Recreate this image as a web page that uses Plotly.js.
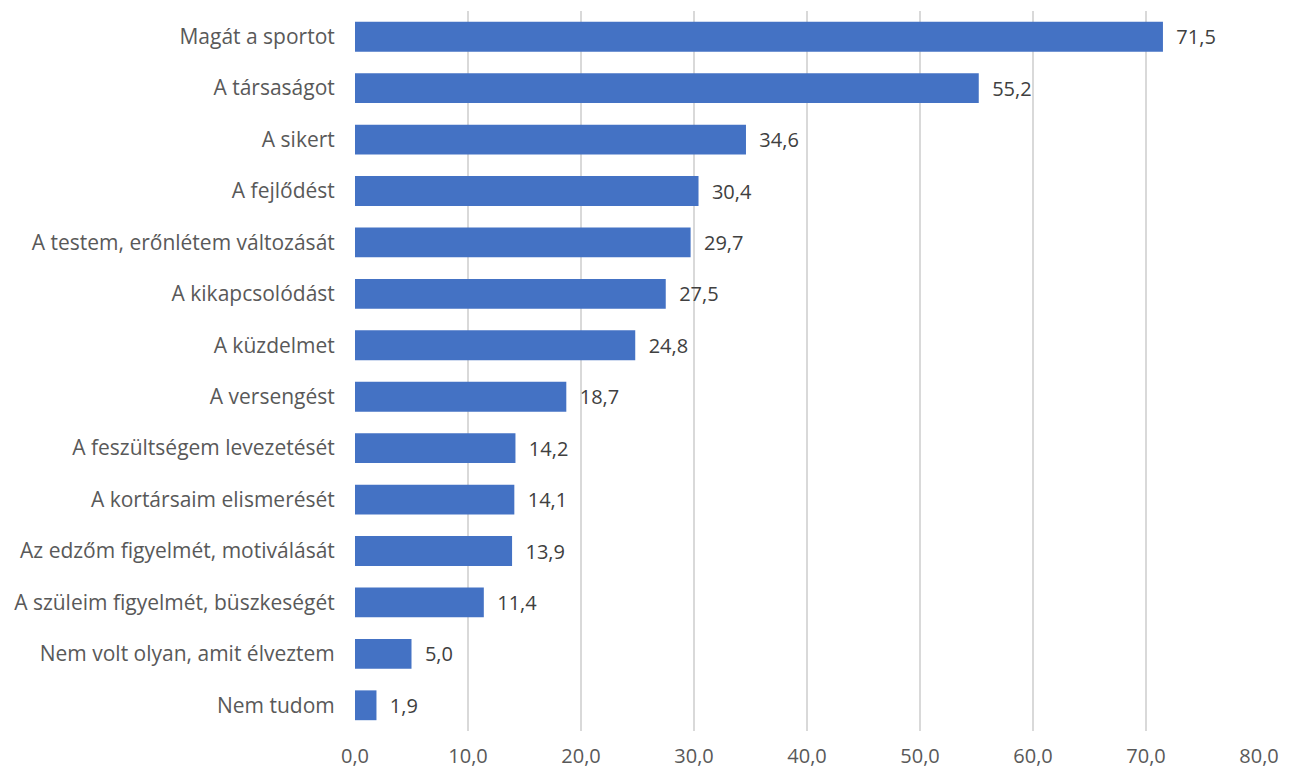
<!DOCTYPE html>
<html>
<head>
<meta charset="utf-8">
<script src="https://cdn.plot.ly/plotly-3.0.1.min.js"></script>
<style>html,body{margin:0;padding:0;background:#fff;}#chart{width:1291px;height:770px;}</style>
</head>
<body>
<div id="chart"></div>
<script>
const categories = [
  "Magát a sportot",
  "A társaságot",
  "A sikert",
  "A fejlődést",
  "A testem, erőnlétem változását",
  "A kikapcsolódást",
  "A küzdelmet",
  "A versengést",
  "A feszültségem levezetését",
  "A kortársaim elismerését",
  "Az edzőm figyelmét, motiválását",
  "A szüleim figyelmét, büszkeségét",
  "Nem volt olyan, amit élveztem",
  "Nem tudom"
];
const values = [71.5, 55.2, 34.6, 30.4, 29.7, 27.5, 24.8, 18.7, 14.2, 14.1, 13.9, 11.4, 5.0, 1.9];
const tickValues = [0, 10, 20, 30, 40, 50, 60, 70, 80];

const font = "'Open Sans', 'Noto Sans', sans-serif";
const textColor = "#595959";

const trace = {
  type: "bar",
  orientation: "h",
  y: categories,
  x: values,
  marker: {color: "#4472C4"},
  width: 0.58,
  texttemplate: "\u00a0\u00a0%{x:.1f}",
  textposition: "outside",
  cliponaxis: false,
  textfont: {family: font, size: 20, color: "#404040"},
  hoverinfo: "skip"
};

const layout = {
  width: 1291,
  height: 770,
  margin: {l: 355, r: 32, t: 11, b: 39},
  paper_bgcolor: "#fff",
  plot_bgcolor: "#fff",
  separators: ", ",
  showlegend: false,
  bargap: 0.42,
  font: {family: font, size: 20, color: textColor},
  xaxis: {
    range: [0, 80],
    tickvals: tickValues,
    tickformat: ".1f",
    showgrid: true,
    gridcolor: "#D9D9D9",
    gridwidth: 2,
    zeroline: false,
    showline: false,
    ticks: "outside",
    ticklen: 7,
    tickcolor: "rgba(0,0,0,0)",
    tickfont: {family: font, size: 20, color: textColor},
    fixedrange: true
  },
  yaxis: {
    autorange: "reversed",
    type: "category",
    showgrid: false,
    zeroline: false,
    showline: false,
    ticks: "outside",
    ticklen: 15,
    tickcolor: "rgba(0,0,0,0)",
    tickfont: {family: font, size: 21, color: textColor},
    fixedrange: true
  }
};

Plotly.newPlot("chart", [trace], layout, {displayModeBar: false, staticPlot: true});
</script>
</body>
</html>
